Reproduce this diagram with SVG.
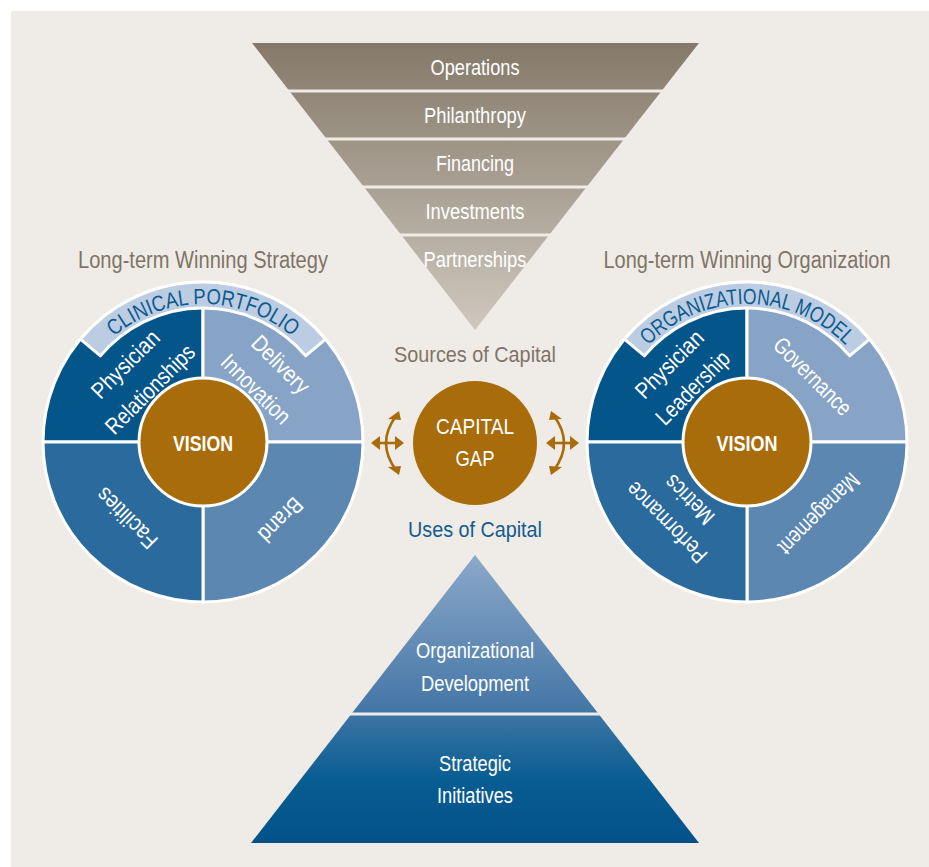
<svg xmlns="http://www.w3.org/2000/svg" width="929" height="867" viewBox="0 0 929 867">
<defs>
<style>
text{font-family:"Liberation Sans Narrow","Liberation Sans",Arial,sans-serif;}
.w{fill:#ffffff;font-size:22px;text-anchor:middle;}
.q{fill:#ffffff;font-size:23px;text-anchor:middle;}
.hd{fill:#7f7465;font-size:23px;text-anchor:middle;}
.vis{fill:#ffffff;font-size:22px;font-weight:bold;text-anchor:middle;}
.ban{fill:#0b5a8d;font-size:22px;text-anchor:middle;}
.sep{stroke:#efece8;stroke-width:3;}
.qs{stroke:#ffffff;stroke-width:3;stroke-linejoin:round;}
.tl{fill:#04558a;}
.tr{fill:#87a4c7;}
.bl{fill:#2a6a9c;}
.br{fill:#5b87b1;}
.bn{fill:#bccde3;}
.gold{fill:#a86c0a;}
.arr{fill:none;stroke:#a86c0a;stroke-width:2.6;}
.ah{fill:#a86c0a;}
</style>
<linearGradient id="gTop" gradientUnits="userSpaceOnUse" x1="0" y1="43" x2="0" y2="330">
<stop offset="0" stop-color="#857969"/>
<stop offset="1" stop-color="#cec8be"/>
</linearGradient>
<linearGradient id="gBot" gradientUnits="userSpaceOnUse" x1="0" y1="555" x2="0" y2="843">
<stop offset="0" stop-color="#8ba8c9"/>
<stop offset="0.5" stop-color="#4a7aa9"/>
<stop offset="0.78" stop-color="#085d92"/>
<stop offset="1" stop-color="#04518a"/>
</linearGradient>
<path id="arcL" d="M 65 442 A 138 138 0 0 1 341 442"/>
<path id="arcR" d="M 609 442 A 138 138 0 0 1 885 442"/>
</defs>

<rect x="11" y="11" width="918" height="856" fill="#efece8"/>

<!-- Sources of capital (inverted triangle) -->
<g id="sources">
<polygon points="252,43 699,43 475,330" fill="url(#gTop)"/>
<line class="sep" x1="250" y1="91" x2="700" y2="91"/>
<line class="sep" x1="250" y1="139" x2="700" y2="139"/>
<line class="sep" x1="250" y1="187" x2="700" y2="187"/>
<line class="sep" x1="250" y1="235" x2="700" y2="235"/>
<text class="w" x="475" y="75" textLength="89" lengthAdjust="spacingAndGlyphs">Operations</text>
<text class="w" x="475" y="123" textLength="102" lengthAdjust="spacingAndGlyphs">Philanthropy</text>
<text class="w" x="475" y="171" textLength="78" lengthAdjust="spacingAndGlyphs">Financing</text>
<text class="w" x="475" y="219" textLength="99" lengthAdjust="spacingAndGlyphs">Investments</text>
<text class="w" x="475" y="267" textLength="103" lengthAdjust="spacingAndGlyphs">Partnerships</text>
</g>

<!-- Uses of capital (triangle) -->
<g id="uses">
<polygon points="475,555 699,843 251,843" fill="url(#gBot)"/>
<line class="sep" x1="330" y1="714" x2="620" y2="714"/>
<text class="w" x="475" y="658" textLength="118" lengthAdjust="spacingAndGlyphs">Organizational</text>
<text class="w" x="475" y="691" textLength="108" lengthAdjust="spacingAndGlyphs">Development</text>
<text class="w" x="475" y="771" textLength="72" lengthAdjust="spacingAndGlyphs">Strategic</text>
<text class="w" x="475" y="803" textLength="76" lengthAdjust="spacingAndGlyphs">Initiatives</text>
</g>

<g id="labels">
<text class="hd" x="203" y="268" textLength="250" lengthAdjust="spacingAndGlyphs">Long-term Winning Strategy</text>
<text class="hd" x="747" y="268" textLength="287" lengthAdjust="spacingAndGlyphs">Long-term Winning Organization</text>
<text class="hd" x="475" y="362" style="font-size:22px" textLength="162" lengthAdjust="spacingAndGlyphs">Sources of Capital</text>
<text class="hd" x="475" y="537" style="fill:#155b8d;font-size:22px" textLength="134" lengthAdjust="spacingAndGlyphs">Uses of Capital</text>
</g>

<!-- Left wheel -->
<g id="strategy-wheel">
<g transform="translate(203,442)">
<path class="tl qs" d="M0,0 L-160,0 A160,160 0 0 1 0,-160 Z"/>
<path class="tr qs" d="M0,0 L0,-160 A160,160 0 0 1 160,0 Z"/>
<path class="br qs" d="M0,0 L160,0 A160,160 0 0 1 0,160 Z"/>
<path class="bl qs" d="M0,0 L0,160 A160,160 0 0 1 -160,0 Z"/>
<path class="bn qs" d="M-122.6,-102.8 A160,160 0 0 1 122.6,-102.8 L102.6,-86.1 A134,134 0 0 0 -102.6,-86.1 Z"/>
<g transform="rotate(-45)">
<text class="q" x="0" y="-102" textLength="86" lengthAdjust="spacingAndGlyphs">Physician</text>
<text class="q" x="0" y="-67" textLength="116" lengthAdjust="spacingAndGlyphs">Relationships</text>
</g>
<g transform="rotate(45)">
<text class="q" x="0" y="-102" textLength="72" lengthAdjust="spacingAndGlyphs">Delivery</text>
<text class="q" x="0" y="-67" textLength="88" lengthAdjust="spacingAndGlyphs">Innovation</text>
</g>
<g transform="rotate(-135)">
<text class="q" x="0" y="-100" textLength="76" lengthAdjust="spacingAndGlyphs">Facilities</text>
</g>
<g transform="rotate(135)">
<text class="q" x="0" y="-102" textLength="53" lengthAdjust="spacingAndGlyphs">Brand</text>
</g>
<circle class="gold qs" cx="0" cy="0" r="64"/>
<text class="vis" x="0" y="9" textLength="60" lengthAdjust="spacingAndGlyphs">VISION</text>
</g>
<text class="ban"><textPath href="#arcL" startOffset="50%" textLength="194" lengthAdjust="spacingAndGlyphs">CLINICAL PORTFOLIO</textPath></text>
</g>

<!-- Right wheel -->
<g id="organization-wheel">
<g transform="translate(747,442)">
<path class="tl qs" d="M0,0 L-160,0 A160,160 0 0 1 0,-160 Z"/>
<path class="tr qs" d="M0,0 L0,-160 A160,160 0 0 1 160,0 Z"/>
<path class="br qs" d="M0,0 L160,0 A160,160 0 0 1 0,160 Z"/>
<path class="bl qs" d="M0,0 L0,160 A160,160 0 0 1 -160,0 Z"/>
<path class="bn qs" d="M-122.6,-102.8 A160,160 0 0 1 122.6,-102.8 L102.6,-86.1 A134,134 0 0 0 -102.6,-86.1 Z"/>
<g transform="rotate(-45)">
<text class="q" x="0" y="-102" textLength="86" lengthAdjust="spacingAndGlyphs">Physician</text>
<text class="q" x="0" y="-69" textLength="94" lengthAdjust="spacingAndGlyphs">Leadership</text>
</g>
<g transform="rotate(45)">
<text class="q" x="0" y="-85" textLength="100" lengthAdjust="spacingAndGlyphs">Governance</text>
</g>
<g transform="rotate(-135)">
<text class="q" x="0" y="-106" textLength="104" lengthAdjust="spacingAndGlyphs">Performance</text>
<text class="q" x="0" y="-74" textLength="60" lengthAdjust="spacingAndGlyphs">Metrics</text>
</g>
<g transform="rotate(135)">
<text class="q" x="0" y="-94" textLength="105" lengthAdjust="spacingAndGlyphs">Management</text>
</g>
<circle class="gold qs" cx="0" cy="0" r="64"/>
<text class="vis" x="0" y="9" textLength="61" lengthAdjust="spacingAndGlyphs">VISION</text>
</g>
<text class="ban"><textPath href="#arcR" startOffset="50%" textLength="220" lengthAdjust="spacingAndGlyphs">ORGANIZATIONAL MODEL</textPath></text>
</g>

<!-- Capital gap -->
<g id="capital-gap">
<circle class="gold" cx="475" cy="443" r="62"/>
<text class="w" x="475" y="434" textLength="78" lengthAdjust="spacingAndGlyphs">CAPITAL</text>
<text class="w" x="475" y="466" textLength="39" lengthAdjust="spacingAndGlyphs">GAP</text>
</g>

<!-- Connectors -->
<g id="connectors">
<line class="arr" x1="378" y1="443" x2="397" y2="443"/>
<polygon class="ah" points="371,443 380,436 380,450"/>
<polygon class="ah" points="404,443 395,436 395,450"/>
<path class="arr" d="M396,416 Q376,443 396,470"/>
<polygon class="ah" points="399,411 388,419 401,420"/>
<polygon class="ah" points="399,475 388,467 401,466"/>

<line class="arr" x1="553" y1="443" x2="572" y2="443"/>
<polygon class="ah" points="579,443 570,436 570,450"/>
<polygon class="ah" points="546,443 555,436 555,450"/>
<path class="arr" d="M554,416 Q574,443 554,470"/>
<polygon class="ah" points="551,411 562,419 549,420"/>
<polygon class="ah" points="551,475 562,467 549,466"/>
</g>
</svg>
